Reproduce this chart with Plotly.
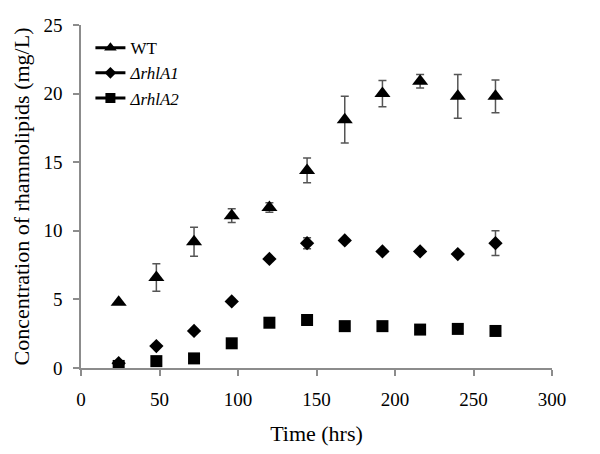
import plotly.graph_objects as go

time_hrs = [24, 48, 72, 96, 120, 144, 168, 192, 216, 240, 264]
wt = [4.8, 6.6, 9.2, 11.1, 11.7, 14.4, 18.1, 20.0, 20.9, 19.8, 19.8]
wt_err = [0.0, 1.0, 1.05, 0.5, 0.35, 0.9, 1.7, 0.95, 0.5, 1.6, 1.2]
rhla1 = [0.35, 1.6, 2.7, 4.85, 7.95, 9.1, 9.3, 8.5, 8.5, 8.3, 9.1]
rhla1_err = [0.0, 0.0, 0.0, 0.0, 0.0, 0.4, 0.0, 0.0, 0.0, 0.0, 0.9]
rhla2 = [0.15, 0.5, 0.7, 1.8, 3.3, 3.5, 3.05, 3.05, 2.8, 2.85, 2.7]

series_names = ["WT", "<i>ΔrhlA1</i>", "<i>ΔrhlA2</i>"]
symbols = ["triangle-up", "diamond", "square"]

font_family = "Liberation Serif"
err_color = "#555555"

fig = go.Figure()
data = [(wt, wt_err), (rhla1, rhla1_err), (rhla2, None)]
sizes = [14, 11, 12]
leg_sizes = [11, 9, 10]
for (vals, errs), name, sym, sz, lsz in zip(data, series_names, symbols, sizes, leg_sizes):
    err = dict(type="data", array=errs, color=err_color, thickness=1.5, width=4, visible=True) if errs else None
    fig.add_trace(go.Scatter(
        x=time_hrs, y=vals, mode="markers", name=name, showlegend=False,
        marker=dict(symbol=sym, size=sz, color="black"),
        error_y=err,
    ))
    fig.add_trace(go.Scatter(
        x=[None], y=[None], mode="lines+markers", name=name, showlegend=True,
        marker=dict(symbol=sym, size=lsz, color="black"),
        line=dict(color="black", width=3),
    ))

axis_common = dict(
    showgrid=False, zeroline=False, showline=True, linecolor="#8c8c8c", linewidth=1.5,
    ticks="outside", tickcolor="#8c8c8c", ticklen=6, tickwidth=1.5, automargin=False,
    ticklabelstandoff=7,
    tickfont=dict(family=font_family, size=19, color="black"),
)

fig.update_layout(
    width=584, height=438,
    margin=dict(l=73, r=40, t=17, b=78),
    paper_bgcolor="white", plot_bgcolor="white",
    font=dict(family=font_family, color="black"),
    xaxis=dict(range=[0, 300], dtick=50, title=dict(text="Time (hrs)", font=dict(family=font_family, size=22), standoff=18), **axis_common),
    yaxis=dict(range=[0, 25], dtick=5, title=dict(text="Concentration of rhamnolipids (mg/L)", font=dict(family=font_family, size=22), standoff=8), **axis_common),
    legend=dict(x=0.02, y=0.985, xanchor="left", yanchor="top", bgcolor="rgba(0,0,0,0)",
                font=dict(family=font_family, size=17, color="black"), itemwidth=30, tracegroupgap=0),
)

fig.write_html("out.html")
